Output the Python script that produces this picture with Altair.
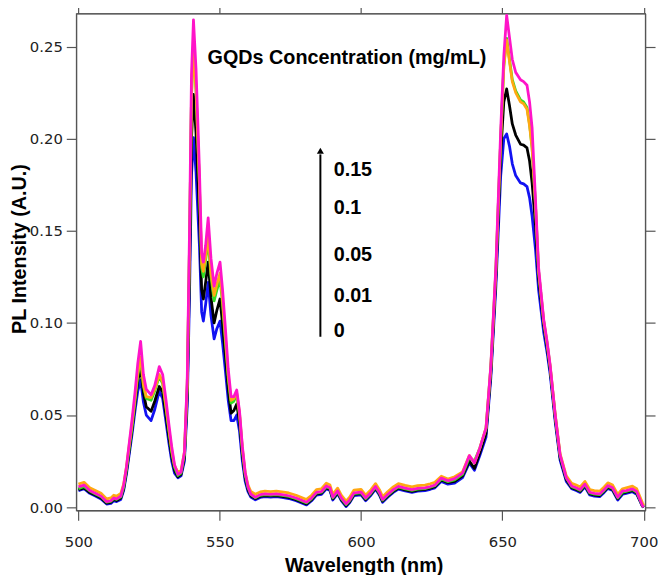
import altair as alt
import pandas as pd

# ---- data ----
wavelength = [500, 502, 504, 506, 508, 510, 511.5, 512.5, 513.5, 515, 516, 517, 518, 519, 520, 521, 522, 523, 524, 525.7,
              527, 528.6, 529.8, 531, 532, 533, 534, 535.2, 536.3, 537.5, 538.5, 539.3, 540, 540.7, 541.6, 542.8, 543.6, 544.2,
              545, 545.9, 546.9, 548, 549, 550.1, 551, 552, 553, 554, 555, 556, 557, 558, 559, 560, 561, 562.6, 564.3, 566,
              568, 570, 572, 574.4, 577, 580.7, 582.5, 584.2, 586, 587.7, 589, 590, 591.7, 593, 594.7, 596, 597.5, 600, 601.6,
              603.5, 605.1, 606.5, 607.6, 609.5, 611.4, 613.2, 615.6, 618, 620, 622.6, 624.5, 626.1, 628.4, 630.7, 633.1,
              635.9, 638.3, 640.1, 642, 644.2, 645.9, 647.7, 649.4, 650.5, 651.5, 652.5, 653.5, 654.7, 656.4, 657.5, 658.7,
              659.6, 660.5, 661.7, 662.8, 664.6, 665.8, 666.9, 668.7, 670.4, 672.6, 674.5, 676.1, 677.5, 679.2, 680.9, 682.5,
              684.4, 686, 687.3, 689, 690.8, 692.5, 693.8, 696, 697.5, 699.5, 700]

conc_0 = [0.0090, 0.0100, 0.0075, 0.0060, 0.0045, 0.0017, 0.0020, 0.0035, 0.0030, 0.0042, 0.0090, 0.0180, 0.0290, 0.0400,
          0.0520, 0.0630, 0.0690, 0.0570, 0.0500, 0.0470, 0.0530, 0.0630, 0.0590, 0.0460, 0.0350, 0.0250, 0.0185, 0.0160,
          0.0170, 0.0250, 0.0550, 0.1150, 0.1800, 0.2006, 0.1820, 0.1420, 0.1060, 0.1010, 0.1100, 0.1220, 0.1040, 0.0914,
          0.0970, 0.1010, 0.0890, 0.0740, 0.0580, 0.0470, 0.0470, 0.0500, 0.0410, 0.0250, 0.0140, 0.0085, 0.0055, 0.0040,
          0.0053, 0.0057, 0.0055, 0.0057, 0.0053, 0.0047, 0.0035, 0.0012, 0.0035, 0.0065, 0.0070, 0.0100, 0.0090, 0.0039,
          0.0073, 0.0035, 0.0003, 0.0025, 0.0063, 0.0067, 0.0035, 0.0065, 0.0098, 0.0065, 0.0027, 0.0055, 0.0080, 0.0098,
          0.0088, 0.0080, 0.0087, 0.0090, 0.0097, 0.0105, 0.0140, 0.0125, 0.0130, 0.0160, 0.0240, 0.0200, 0.0280, 0.0380,
          0.0700, 0.1200, 0.1800, 0.2000, 0.2026, 0.1960, 0.1864, 0.1800, 0.1760, 0.1755, 0.1740, 0.1680, 0.1580, 0.1400,
          0.1180, 0.0950, 0.0840, 0.0720, 0.0460, 0.0255, 0.0140, 0.0100, 0.0090, 0.0080, 0.0110, 0.0066, 0.0060, 0.0057,
          0.0080, 0.0102, 0.0090, 0.0039, 0.0070, 0.0075, 0.0084, 0.0070, 0.0005, 0.0000]

conc_001 = [0.0095, 0.0105, 0.0080, 0.0066, 0.0050, 0.0022, 0.0026, 0.0041, 0.0036, 0.0050, 0.0100, 0.0195, 0.0310, 0.0425,
            0.0555, 0.0685, 0.0760, 0.0620, 0.0545, 0.0520, 0.0575, 0.0655, 0.0625, 0.0495, 0.0380, 0.0275, 0.0200, 0.0165,
            0.0178, 0.0270, 0.0610, 0.1280, 0.2000, 0.2240, 0.2030, 0.1580, 0.1180, 0.1130, 0.1220, 0.1330, 0.1140, 0.1000,
            0.1070, 0.1130, 0.0990, 0.0820, 0.0640, 0.0510, 0.0525, 0.0560, 0.0460, 0.0285, 0.0160, 0.0095, 0.0062, 0.0046,
            0.0059, 0.0063, 0.0061, 0.0063, 0.0059, 0.0053, 0.0041, 0.0018, 0.0041, 0.0071, 0.0076, 0.0106, 0.0096, 0.0045,
            0.0079, 0.0041, 0.0009, 0.0031, 0.0069, 0.0073, 0.0041, 0.0071, 0.0104, 0.0071, 0.0033, 0.0061, 0.0086, 0.0104,
            0.0094, 0.0086, 0.0093, 0.0096, 0.0103, 0.0111, 0.0148, 0.0133, 0.0140, 0.0170, 0.0250, 0.0210, 0.0295, 0.0400,
            0.0730, 0.1250, 0.1920, 0.2200, 0.2270, 0.2180, 0.2080, 0.2020, 0.1970, 0.1965, 0.1950, 0.1880, 0.1760, 0.1530,
            0.1240, 0.0990, 0.0870, 0.0745, 0.0480, 0.0270, 0.0150, 0.0106, 0.0096, 0.0086, 0.0116, 0.0072, 0.0066, 0.0063,
            0.0086, 0.0108, 0.0096, 0.0045, 0.0076, 0.0081, 0.0090, 0.0076, 0.0008, 0.0000]

conc_005 = [0.0100, 0.0112, 0.0088, 0.0072, 0.0056, 0.0027, 0.0032, 0.0047, 0.0042, 0.0056, 0.0108, 0.0205, 0.0325, 0.0440,
            0.0575, 0.0715, 0.0800, 0.0655, 0.0590, 0.0580, 0.0630, 0.0710, 0.0670, 0.0535, 0.0415, 0.0300, 0.0215, 0.0172,
            0.0185, 0.0285, 0.0660, 0.1420, 0.2230, 0.2520, 0.2270, 0.1750, 0.1300, 0.1250, 0.1340, 0.1450, 0.1250, 0.1120,
            0.1180, 0.1240, 0.1100, 0.0900, 0.0700, 0.0565, 0.0575, 0.0610, 0.0500, 0.0310, 0.0175, 0.0105, 0.0068, 0.0051,
            0.0064, 0.0068, 0.0066, 0.0068, 0.0064, 0.0058, 0.0046, 0.0023, 0.0046, 0.0076, 0.0081, 0.0111, 0.0101, 0.0050,
            0.0084, 0.0046, 0.0014, 0.0036, 0.0074, 0.0078, 0.0046, 0.0076, 0.0109, 0.0076, 0.0038, 0.0066, 0.0091, 0.0109,
            0.0099, 0.0091, 0.0098, 0.0101, 0.0108, 0.0116, 0.0153, 0.0138, 0.0148, 0.0178, 0.0270, 0.0250, 0.0320, 0.0425,
            0.0760, 0.1290, 0.2000, 0.2400, 0.2545, 0.2430, 0.2320, 0.2260, 0.2210, 0.2200, 0.2170, 0.2080, 0.1950, 0.1640,
            0.1280, 0.1010, 0.0890, 0.0760, 0.0495, 0.0280, 0.0158, 0.0111, 0.0101, 0.0091, 0.0121, 0.0077, 0.0071, 0.0068,
            0.0091, 0.0113, 0.0101, 0.0050, 0.0081, 0.0086, 0.0095, 0.0081, 0.0010, 0.0002]

conc_01 = [0.0125, 0.0135, 0.0105, 0.0090, 0.0075, 0.0045, 0.0050, 0.0065, 0.0060, 0.0075, 0.0125, 0.0220, 0.0340, 0.0455,
           0.0590, 0.0730, 0.0815, 0.0665, 0.0600, 0.0595, 0.0640, 0.0720, 0.0680, 0.0545, 0.0425, 0.0310, 0.0225, 0.0190,
           0.0200, 0.0300, 0.0670, 0.1420, 0.2230, 0.2510, 0.2260, 0.1760, 0.1320, 0.1280, 0.1360, 0.1480, 0.1270, 0.1150,
           0.1210, 0.1270, 0.1120, 0.0920, 0.0715, 0.0580, 0.0590, 0.0620, 0.0510, 0.0320, 0.0185, 0.0120, 0.0085, 0.0070,
           0.0083, 0.0087, 0.0085, 0.0087, 0.0083, 0.0077, 0.0065, 0.0042, 0.0065, 0.0095, 0.0100, 0.0130, 0.0120, 0.0069,
           0.0103, 0.0065, 0.0033, 0.0055, 0.0093, 0.0097, 0.0065, 0.0095, 0.0128, 0.0095, 0.0057, 0.0085, 0.0110, 0.0128,
           0.0118, 0.0110, 0.0117, 0.0120, 0.0127, 0.0135, 0.0168, 0.0153, 0.0165, 0.0192, 0.0280, 0.0240, 0.0320, 0.0430,
           0.0760, 0.1290, 0.2000, 0.2390, 0.2535, 0.2420, 0.2310, 0.2250, 0.2200, 0.2190, 0.2160, 0.2070, 0.1950, 0.1640,
           0.1280, 0.1010, 0.0890, 0.0765, 0.0500, 0.0290, 0.0170, 0.0130, 0.0120, 0.0110, 0.0140, 0.0096, 0.0090, 0.0087,
           0.0110, 0.0132, 0.0120, 0.0069, 0.0100, 0.0105, 0.0114, 0.0100, 0.0025, 0.0010]

conc_015 = [0.0110, 0.0120, 0.0090, 0.0075, 0.0060, 0.0030, 0.0035, 0.0050, 0.0045, 0.0060, 0.0120, 0.0220, 0.0350, 0.0480,
            0.0620, 0.0780, 0.0900, 0.0720, 0.0640, 0.0610, 0.0660, 0.0763, 0.0720, 0.0580, 0.0450, 0.0330, 0.0230, 0.0178,
            0.0190, 0.0300, 0.0700, 0.1500, 0.2350, 0.2645, 0.2380, 0.1840, 0.1380, 0.1330, 0.1420, 0.1570, 0.1350, 0.1200,
            0.1270, 0.1330, 0.1180, 0.0970, 0.0750, 0.0600, 0.0600, 0.0636, 0.0520, 0.0330, 0.0190, 0.0110, 0.0070, 0.0054,
            0.0068, 0.0072, 0.0070, 0.0072, 0.0068, 0.0062, 0.0050, 0.0027, 0.0050, 0.0080, 0.0085, 0.0115, 0.0105, 0.0054,
            0.0088, 0.0050, 0.0018, 0.0040, 0.0078, 0.0082, 0.0050, 0.0080, 0.0113, 0.0080, 0.0042, 0.0070, 0.0095, 0.0113,
            0.0103, 0.0095, 0.0102, 0.0105, 0.0112, 0.0120, 0.0158, 0.0143, 0.0155, 0.0185, 0.0280, 0.0240, 0.0320, 0.0430,
            0.0770, 0.1310, 0.2050, 0.2450, 0.2670, 0.2550, 0.2430, 0.2360, 0.2320, 0.2310, 0.2290, 0.2200, 0.2060, 0.1670,
            0.1300, 0.1020, 0.0900, 0.0770, 0.0500, 0.0285, 0.0160, 0.0115, 0.0105, 0.0095, 0.0125, 0.0081, 0.0075, 0.0072,
            0.0095, 0.0117, 0.0105, 0.0054, 0.0088, 0.0090, 0.0099, 0.0085, 0.0010, 0.0000]

series_names = ["0", "0.01", "0.05", "0.1", "0.15"]
series_values = [conc_0, conc_001, conc_005, conc_01, conc_015]
series_colors = ["#1212f2", "#000000", "#33dd22", "#ffa812", "#ff14c8"]

legend_title = "GQDs Concentration (mg/mL)"
legend_title_pos = (545.7, 0.2435)
legend_labels = ["0.15", "0.1", "0.05", "0.01", "0"]
legend_label_y = [0.1828, 0.1624, 0.1371, 0.1145, 0.0957]
legend_label_x = 590.3
arrow_x = 585.6
arrow_y0, arrow_y1 = 0.0925, 0.1915
arrow_tip_y = 0.1935

x_ticks = [500, 550, 600, 650, 700]
y_ticks = [0.0, 0.05, 0.10, 0.15, 0.20, 0.25]
x_domain = [499.2, 700.5]
y_domain = [-0.0017, 0.268]

AX = "#555555"
LABEL_FONT = "DejaVu Sans"
TITLE_FONT = "Liberation Sans"

xscale = alt.Scale(domain=x_domain, nice=False, zero=False)
yscale = alt.Scale(domain=y_domain, nice=False, zero=False)

common_axis = dict(grid=False, domainColor=AX, domainWidth=1.2, tickColor=AX, tickWidth=1.2, tickSize=10)

x_bottom = alt.Axis(values=x_ticks, format="d", labelFont=LABEL_FONT, labelFontSize=15, labelColor="#222222",
                    labelPadding=15, title="Wavelength (nm)", titleFont=TITLE_FONT, titleFontSize=20,
                    titleFontWeight="bold", titleColor="#000000", titleX=291, titleY=62,
                    titleBaseline="alphabetic", titleAnchor="middle", **common_axis)
y_left = alt.Axis(values=y_ticks, format=".2f", labelFont=LABEL_FONT, labelFontSize=15, labelColor="#222222",
                  labelPadding=4, title="PL Intensity (A.U.)", titleFont=TITLE_FONT, titleFontSize=20,
                  titleFontWeight="bold", titleColor="#000000", titleX=-51, titleY=238,
                  titleBaseline="alphabetic", titleAnchor="middle", titleAngle=270, **common_axis)
x_top = alt.Axis(values=x_ticks, orient="top", labels=False, title=None, **common_axis)
y_right = alt.Axis(values=y_ticks, orient="right", labels=False, title=None, **common_axis)

layers = []
for i, (name, vals, col) in enumerate(zip(series_names, series_values, series_colors)):
    df = pd.DataFrame({"wavelength": wavelength, "intensity": vals, "series": name})
    if i == 0:
        xa, ya = x_bottom, y_left
    elif i == 1:
        xa, ya = x_top, y_right
    else:
        xa, ya = None, None
    layers.append(
        alt.Chart(df).mark_line(color=col, strokeWidth=2.8, strokeJoin="round", clip=True).encode(
            x=alt.X("wavelength:Q", scale=xscale, axis=xa),
            y=alt.Y("intensity:Q", scale=yscale, axis=ya),
        )
    )

# annotation (legend drawn in data coordinates)
title_df = pd.DataFrame({"x": [legend_title_pos[0]], "y": [legend_title_pos[1]], "t": [legend_title]})
labels_df = pd.DataFrame({"x": [legend_label_x] * len(legend_labels), "y": legend_label_y, "t": legend_labels})
arrow_df = pd.DataFrame({"x": [arrow_x], "y": [arrow_y0], "y2": [arrow_y1]})
tip_df = pd.DataFrame({"x": [arrow_x], "y": [arrow_tip_y]})

title_layer = alt.Chart(title_df).mark_text(align="left", baseline="middle", font=TITLE_FONT, fontSize=20,
                                            fontWeight="bold", color="#000000").encode(
    x=alt.X("x:Q", scale=xscale, axis=None), y=alt.Y("y:Q", scale=yscale, axis=None), text="t:N")
labels_layer = alt.Chart(labels_df).mark_text(align="left", baseline="middle", font=TITLE_FONT, fontSize=20,
                                              fontWeight="bold", color="#000000").encode(
    x=alt.X("x:Q", scale=xscale, axis=None), y=alt.Y("y:Q", scale=yscale, axis=None), text="t:N")
arrow_layer = alt.Chart(arrow_df).mark_rule(color="#000000", strokeWidth=2).encode(
    x=alt.X("x:Q", scale=xscale, axis=None), y=alt.Y("y:Q", scale=yscale, axis=None), y2="y2:Q")
tip_layer = alt.Chart(tip_df).mark_point(shape="triangle-up", filled=True, size=50, color="#000000", opacity=1).encode(
    x=alt.X("x:Q", scale=xscale, axis=None), y=alt.Y("y:Q", scale=yscale, axis=None))

chart = alt.layer(*layers, arrow_layer, tip_layer, title_layer, labels_layer).resolve_axis(
    x="independent", y="independent"
).properties(
    width=576, height=503,
    padding={"left": 69, "top": 2, "right": 13, "bottom": 62},
    autosize=alt.AutoSizeParams(type="none"),
).configure_view(stroke=AX, strokeWidth=1.2)

chart.save("out.html", embed_options={"renderer": "svg", "actions": False})
